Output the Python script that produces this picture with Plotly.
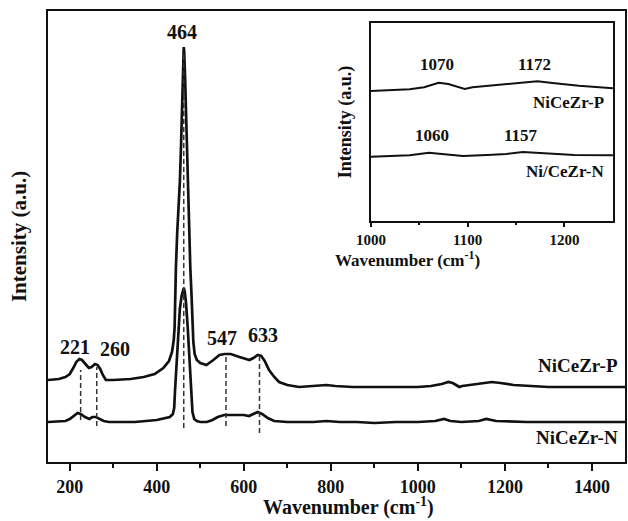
import plotly.graph_objects as go

# ---------------- data ----------------
wn_p = [150, 175, 190, 200, 208, 215, 222, 228, 236, 244, 250, 258, 264, 270, 276, 283, 300, 340, 370,
        395, 415, 428, 435, 439, 441, 442, 444, 447, 450, 453, 456, 459, 461, 462, 463, 465, 467, 469,
        471, 474, 477, 480, 482, 484, 487, 492, 500, 514, 530, 544, 556, 570, 590, 605, 613, 622, 632,
        640, 648, 658, 670, 681, 700, 727, 770, 790, 810, 850, 900, 950, 1000, 1030, 1055, 1070, 1080,
        1088, 1095, 1102, 1120, 1145, 1170, 1190, 1220, 1260, 1300, 1350, 1400, 1476]
int_p = [82, 83, 85, 88, 94, 100, 103, 102, 98, 94, 95, 98, 97, 93, 87, 82, 82, 83, 85,
         88, 94, 101, 110, 122, 135, 162, 195, 230, 255, 280, 320, 370, 400, 415, 410, 385, 350, 310,
         270, 230, 195, 165, 140, 120, 108, 102, 99, 97, 102, 107, 108, 108, 105, 103, 102, 104, 107,
         106, 101, 92, 85, 80, 77, 75, 76, 77, 76, 75, 75, 75, 75, 76, 78, 80, 79,
         77, 75, 76, 77, 79, 80, 79, 77, 76, 75, 75, 75, 75]

wn_n = [150, 190, 200, 210, 218, 225, 235, 245, 252, 260, 268, 278, 290, 350, 400, 425, 430, 437, 440,
        442, 445, 449, 453, 457, 460, 462, 464, 467, 471, 475, 478, 480, 482, 486, 492, 500, 515, 528,
        540, 555, 575, 600, 612, 622, 632, 642, 655, 670, 700, 760, 790, 820, 860, 900, 950, 1000, 1040,
        1060, 1075, 1100, 1140, 1157, 1180, 1250, 1476]
int_n = [40, 41, 43, 46, 49, 48, 45, 43, 45, 45, 43, 41, 40, 40, 42, 44, 45, 48, 54,
         72, 98, 128, 153, 166, 172, 174, 171, 160, 135, 105, 80, 62, 50, 43, 41, 40, 40, 42,
         45, 47, 47, 47, 46, 48, 50, 48, 44, 41, 40, 40, 41, 40, 40, 39, 40, 40, 41,
         43, 41, 40, 41, 43, 41, 40, 40]

# inset (1000-1250 cm-1)
wn_ip = [1000, 1040, 1055, 1070, 1080, 1090, 1097, 1105, 1130, 1150, 1172, 1190, 1215, 1250]
int_ip = [130, 131.7, 133.7, 138.3, 137, 133.7, 132, 133.7, 136, 137.7, 139.7, 137.7, 135.3, 132.7]
wn_in = [1000, 1040, 1060, 1080, 1095, 1120, 1140, 1157, 1180, 1210, 1250]
int_in = [64.3, 65.7, 68.3, 66, 65, 66, 67, 69, 67.7, 66, 65.7]

peak_labels = ["221", "260", "464", "547", "633"]
peak_lines = [225, 262, 462, 559, 636]
inset_labels_p = ["1070", "1172"]
inset_labels_n = ["1060", "1157"]
series_names = ["NiCeZr-P", "NiCeZr-N"]
inset_series_names = ["NiCeZr-P", "Ni/CeZr-N"]
x_ticks = [200, 400, 600, 800, 1000, 1200, 1400]
inset_ticks = [1000, 1100, 1200]

# ---------------- figure ----------------
FONT = "Liberation Serif, Times New Roman, serif"
INK = "#111111"

fig = go.Figure()
line_style = dict(color=INK, width=2.7)
fig.add_trace(go.Scatter(x=wn_p, y=int_p, mode="lines", line=line_style, showlegend=False))
fig.add_trace(go.Scatter(x=wn_n, y=int_n, mode="lines", line=line_style, showlegend=False))

# dashed peak guides
line_top = [92, 95, 407, 105, 105]
line_bot = [42, 36, 34, 36, 29]
for xp, yt, yb in zip(peak_lines, line_top, line_bot):
    fig.add_trace(go.Scatter(x=[xp, xp], y=[yb, yt], mode="lines",
                             line=dict(color="#333333", width=1.5, dash="5px,3px"),
                             showlegend=False))

fig.add_trace(go.Scatter(x=wn_ip, y=int_ip, mode="lines", line=dict(color=INK, width=2),
                         xaxis="x2", yaxis="y2", showlegend=False))
fig.add_trace(go.Scatter(x=wn_in, y=int_in, mode="lines", line=dict(color=INK, width=2),
                         xaxis="x2", yaxis="y2", showlegend=False))

ann = []
lab_pos = [(212, 115), (304, 113), (459, 430), (551, 124), (645, 127)]
for t, (ax_, ay_) in zip(peak_labels, lab_pos):
    ann.append(dict(x=ax_, y=ay_, xref="x", yref="y", text=t, showarrow=False,
                    font=dict(family=FONT, size=20, color=INK, weight="bold")))
for t, ay_ in zip(series_names, [97, 25]):
    ann.append(dict(x=1464, y=ay_, xref="x", yref="y", text=t, showarrow=False, xanchor="right",
                    font=dict(family=FONT, size=19, color=INK, weight="bold")))
for t, ax_ in zip(inset_labels_p, [1068, 1169]):
    ann.append(dict(x=ax_, y=156, xref="x2", yref="y2", text=t, showarrow=False,
                    font=dict(family=FONT, size=17, color=INK, weight="bold")))
for t, ax_ in zip(inset_labels_n, [1063, 1155]):
    ann.append(dict(x=ax_, y=85, xref="x2", yref="y2", text=t, showarrow=False,
                    font=dict(family=FONT, size=17, color=INK, weight="bold")))
for t, ay_ in zip(inset_series_names, [118, 49]):
    ann.append(dict(x=1243, y=ay_, xref="x2", yref="y2", text=t, showarrow=False, xanchor="right",
                    font=dict(family=FONT, size=17, color=INK, weight="bold")))
# axis titles placed as in the original
ann.append(dict(x=0.7513, y=0.5344, xref="paper", yref="paper",
                text="Wavenumber (cm<sup>-1</sup>)", showarrow=False, yanchor="top", yshift=-25,
                font=dict(family=FONT, size=17, color=INK, weight="bold")))
ann.append(dict(x=0.5216, y=0, xref="paper", yref="paper",
                text="Wavenumber (cm<sup>-1</sup>)", showarrow=False, yanchor="bottom", yshift=-59,
                font=dict(family=FONT, size=20, color=INK, weight="bold")))

fig.update_layout(
    width=628, height=521,
    margin=dict(l=48, r=1, t=11, b=59),
    paper_bgcolor="white", plot_bgcolor="white",
    font=dict(family=FONT, color=INK, weight="bold"),
    annotations=ann,
    xaxis=dict(range=[150, 1476], tickvals=x_ticks, ticks="outside", ticklen=7, tickwidth=2,
               tickcolor=INK, showline=True, mirror=True, linewidth=2, linecolor=INK,
               showgrid=False, zeroline=False,
               minor=dict(tickvals=[300, 500, 700, 900, 1100, 1300], ticks="outside", ticklen=4,
                          tickwidth=2, tickcolor=INK),
               tickfont=dict(family=FONT, size=18, color=INK, weight="bold")),
    yaxis=dict(range=[0, 451], showticklabels=False, ticks="", showline=True, mirror=True,
               linewidth=2, linecolor=INK, showgrid=False, zeroline=False,
               title=dict(text="Intensity (a.u.)", standoff=14,
                          font=dict(family=FONT, size=21, color=INK, weight="bold"))),
    xaxis2=dict(domain=[0.5596, 0.979], anchor="y2", range=[1000, 1250], tickvals=inset_ticks,
                ticks="outside", ticklen=4, tickwidth=2, tickcolor=INK, showline=True, mirror=True,
                linewidth=2, linecolor=INK, showgrid=False, zeroline=False,
                minor=dict(tickvals=[1050, 1150], ticks="outside", ticklen=2, tickwidth=2,
                           tickcolor=INK),
                tickfont=dict(family=FONT, size=15, color=INK, weight="bold")),
    yaxis2=dict(domain=[0.5344, 0.9734], anchor="x2", range=[0, 198], showticklabels=False,
                ticks="", showline=True, mirror=True, linewidth=2, linecolor=INK,
                showgrid=False, zeroline=False,
                title=dict(text="Intensity (a.u.)", standoff=13,
                           font=dict(family=FONT, size=18, color=INK, weight="bold"))),
)

fig.write_html("out.html", config={"displayModeBar": False},
               post_script="document.body.style.margin='0px';document.body.style.overflow='hidden';")
